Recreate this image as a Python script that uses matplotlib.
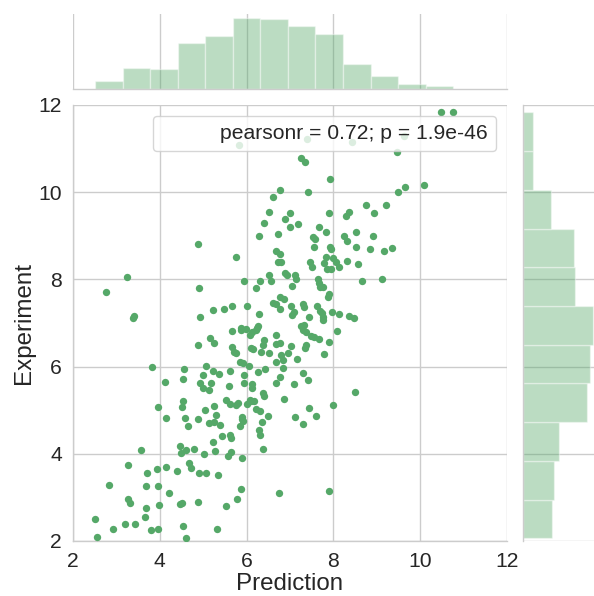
import matplotlib
matplotlib.use("Agg")
import matplotlib.pyplot as plt
import numpy as np

# Predicted vs. experimental values
prediction = [
    5.83, 6.77, 6.60, 6.51, 7.00, 6.89, 6.41, 7.01, 6.28, 6.73, 4.87, 6.68, 6.77, 5.76, 6.72, 6.79,
    3.25, 5.95, 6.30, 6.51, 6.56, 6.89, 6.93, 2.76, 4.90, 6.22, 7.05, 6.78, 6.87, 6.60, 6.68, 6.77,
    7.03, 6.02, 5.66, 5.49, 5.23, 6.28, 7.04, 4.92, 3.41, 3.38,
    10.48, 10.76, 7.40, 8.44, 9.63, 9.46, 7.26, 7.35, 7.92, 7.41, 9.48, 9.66, 10.09, 8.74, 9.21,
    8.94, 8.37, 8.28, 7.89, 7.18, 7.66, 7.82, 8.51, 7.52, 7.57, 8.25, 8.31, 8.91, 7.55, 7.92, 7.94,
    8.53, 8.84, 9.17, 9.36, 7.82, 7.46, 7.50, 8.00, 8.06, 8.14, 7.79, 7.85, 7.95, 8.31, 8.57, 7.12,
    7.14, 7.65, 7.66, 7.69, 7.75, 7.89, 7.87, 8.66, 9.13, 7.30, 7.33, 7.62, 7.10, 7.43, 7.68, 7.73,
    7.75, 7.97, 8.12, 8.35, 8.48,
    7.75, 8.08, 7.26, 7.33, 7.29, 7.36, 7.49, 7.56, 7.66, 7.91, 7.03, 7.36, 7.34, 7.79, 7.16,
    7.29, 7.10, 7.41, 8.50, 7.98, 7.43, 7.11, 7.59, 7.30, 7.91,
    5.67, 5.86, 5.99, 6.07, 6.13, 6.26, 6.22, 6.40, 6.38, 6.67, 6.68, 6.76, 5.15, 5.26, 4.87, 5.67,
    5.72, 5.76, 6.11, 6.34, 6.51, 6.80, 6.96, 5.84, 5.92, 6.05, 6.67, 6.84, 6.84, 3.81, 4.55, 5.07,
    5.23, 5.36, 5.61, 6.26, 6.43, 5.00, 4.54, 4.11, 4.92, 5.00, 5.13, 5.19, 5.59, 5.93, 5.95, 6.13,
    6.12, 6.38, 6.39, 6.67, 6.77, 6.87, 3.95, 4.15, 4.54, 4.50, 4.58, 4.64, 4.88, 5.03, 5.24, 5.30,
    5.13, 5.26, 5.38, 5.52, 5.61, 5.76, 5.80, 6.01, 6.07, 6.18, 6.22, 6.32, 6.49, 6.36, 5.89, 5.92,
    5.84, 6.28, 6.32, 6.38, 5.44, 5.61, 5.63, 5.23, 4.46, 4.61, 4.48, 4.79, 5.02, 5.27, 5.57, 5.65,
    5.89, 3.56, 3.26, 3.71, 3.94, 4.15, 4.40, 4.67, 4.71, 4.90, 5.07, 5.33, 2.83, 3.68, 3.95, 4.21,
    5.86, 6.75, 3.26, 3.31, 3.68, 3.98, 4.46, 4.50, 4.87, 5.79, 5.53, 3.65, 2.51, 2.93, 3.20, 3.44,
    3.79, 3.97, 4.54, 5.31, 2.55, 4.61,
    5.88, 6.24, 6.10, 5.90, 6.15,
]
experiment = [
    11.09, 10.05, 9.89, 9.54, 9.52, 9.39, 9.30, 9.21, 9.00, 9.04, 8.82, 8.64, 8.58, 8.51, 8.41, 8.39,
    8.05, 7.96, 7.96, 8.09, 7.96, 8.14, 8.09, 7.70, 7.80, 7.81, 7.85, 7.60, 7.54, 7.47, 7.43, 7.33,
    7.40, 7.40, 7.40, 7.33, 7.29, 7.21, 7.18, 7.14, 7.16, 7.11,
    11.83, 11.83, 11.23, 11.16, 11.30, 10.92, 10.78, 10.69, 10.30, 10.00, 10.00, 10.12, 10.17, 9.71, 9.70,
    9.52, 9.55, 9.46, 9.52, 9.27, 9.21, 9.09, 9.09, 8.98, 8.93, 9.00, 8.87, 9.00, 8.74, 8.75, 8.70,
    8.74, 8.70, 8.66, 8.72, 8.51, 8.41, 8.29, 8.48, 8.41, 8.29, 8.37, 8.25, 8.25, 8.43, 8.35, 8.10,
    8.01, 8.00, 7.92, 7.83, 7.82, 7.66, 7.59, 7.96, 8.02, 7.43, 7.36, 7.40, 7.25, 7.14, 7.28, 7.22,
    7.14, 7.26, 7.21, 7.17, 7.11,
    7.07, 6.82, 6.92, 6.95, 6.84, 6.80, 6.70, 6.67, 6.63, 6.57, 6.47, 6.49, 6.42, 6.30, 6.17,
    5.85, 5.59, 5.69, 5.42, 5.12, 5.04, 4.85, 4.87, 4.68, 3.14,
    6.82, 6.88, 6.86, 6.72, 6.80, 6.92, 6.84, 6.61, 6.50, 6.72, 6.51, 6.53, 6.65, 6.53, 6.50, 6.46,
    6.34, 6.31, 6.42, 6.33, 6.32, 6.27, 6.31, 6.11, 6.08, 6.01, 6.11, 6.15, 5.96, 5.99, 5.94, 6.01,
    5.91, 5.82, 5.90, 5.88, 5.94, 5.81, 5.71, 5.65, 5.63, 5.52, 5.46, 5.62, 5.56, 5.81, 5.63, 5.60,
    5.50, 5.40, 5.33, 5.63, 5.77, 5.26, 5.08, 4.81, 5.22, 5.08, 4.81, 4.64, 4.79, 5.00, 5.10, 4.90,
    4.70, 4.73, 4.66, 5.23, 5.14, 5.12, 5.17, 5.14, 5.23, 5.20, 5.02, 4.98, 4.87, 4.74, 4.84, 4.75,
    4.64, 4.55, 4.43, 4.12, 4.41, 4.43, 4.36, 4.28, 4.18, 4.09, 4.01, 4.11, 4.00, 4.07, 3.95, 4.03,
    3.90, 4.09, 3.74, 3.55, 3.64, 3.69, 3.61, 3.78, 3.67, 3.55, 3.57, 3.51, 3.28, 3.26, 3.26, 3.09,
    3.20, 3.09, 2.96, 2.88, 2.75, 2.83, 2.84, 2.88, 2.90, 2.96, 2.80, 2.55, 2.50, 2.28, 2.38, 2.39,
    2.25, 2.28, 2.34, 2.27, 2.10, 2.06,
    6.84, 6.88, 5.22, 4.79, 6.41,
]
pearson_r = 0.72
pearson_p = 1.9e-46
axis_ticks = [2, 4, 6, 8, 10, 12]

x = np.array(prediction)
y = np.array(experiment)

green = "#55a868"
grid_gray = "#cccccc"
text_dark = "#262626"

plt.rcParams["font.family"] = ["Liberation Sans", "DejaVu Sans"]
plt.rcParams["axes.axisbelow"] = True

W, H = 594, 596
fig = plt.figure(figsize=(W / 100, H / 100), dpi=100)


def px_axes(left, top, right, bottom):
    return fig.add_axes([left / W, 1 - bottom / H, (right - left) / W, (bottom - top) / H])


ax = px_axes(73, 105, 507, 541)
ax_top = px_axes(73, 14, 507, 89.3)
ax_right = px_axes(522.7, 105, 597, 541)

grid_kw = dict(color=grid_gray, linewidth=1.0)

# joint scatter
ax.scatter(x, y, s=28, color=green, linewidths=0, zorder=3)
ax.set_xlim(2, 12)
ax.set_ylim(2, 12)
ax.set_xticks(axis_ticks)
ax.set_yticks(axis_ticks)
ax.grid(True, **grid_kw)
ax.tick_params(length=0, pad=8, labelsize=15.2, labelcolor=text_dark)
ax.set_xlabel("Prediction", fontsize=17.4, color=text_dark, labelpad=1.5)
ax.set_ylabel("Experiment", fontsize=17.4, color=text_dark, labelpad=2)
for side in ("top", "right"):
    ax.spines[side].set_visible(False)
for side in ("left", "bottom"):
    ax.spines[side].set_color(grid_gray)
    ax.spines[side].set_linewidth(1.0)

ax.plot([], [], linewidth=0, label=f"pearsonr = {pearson_r:.2f}; p = {pearson_p:.2g}")
leg = ax.legend(loc="upper right", fontsize=15.2, frameon=True, fancybox=True,
                framealpha=0.8, edgecolor=grid_gray)
for t in leg.get_texts():
    t.set_color(text_dark)
leg.set_zorder(5)

# marginal histograms
hist_kw = dict(color=green, alpha=0.4, edgecolor="white", linewidth=1.0)
ax_top.hist(x, bins=13, **hist_kw)
ax_right.hist(y, bins=11, orientation="horizontal", **hist_kw)

ax_top.set_xlim(2, 12)
ax_top.set_xticks(axis_ticks)
ax_top.grid(True, axis="x", **grid_kw)
ax_top.grid(False, axis="y")
ax_top.tick_params(length=0, labelbottom=False, labelleft=False)
for side in ("top", "right", "left"):
    ax_top.spines[side].set_visible(False)
ax_top.spines["bottom"].set_color(grid_gray)
ax_top.spines["bottom"].set_linewidth(1.0)

ax_right.set_ylim(2, 12)
ax_right.set_yticks(axis_ticks)
ax_right.grid(True, axis="y", **grid_kw)
ax_right.grid(False, axis="x")
ax_right.tick_params(length=0, labelbottom=False, labelleft=False)
for side in ("top", "right", "bottom"):
    ax_right.spines[side].set_visible(False)
ax_right.spines["left"].set_color(grid_gray)
ax_right.spines["left"].set_linewidth(1.0)

fig.savefig("out.png", dpi=100)
